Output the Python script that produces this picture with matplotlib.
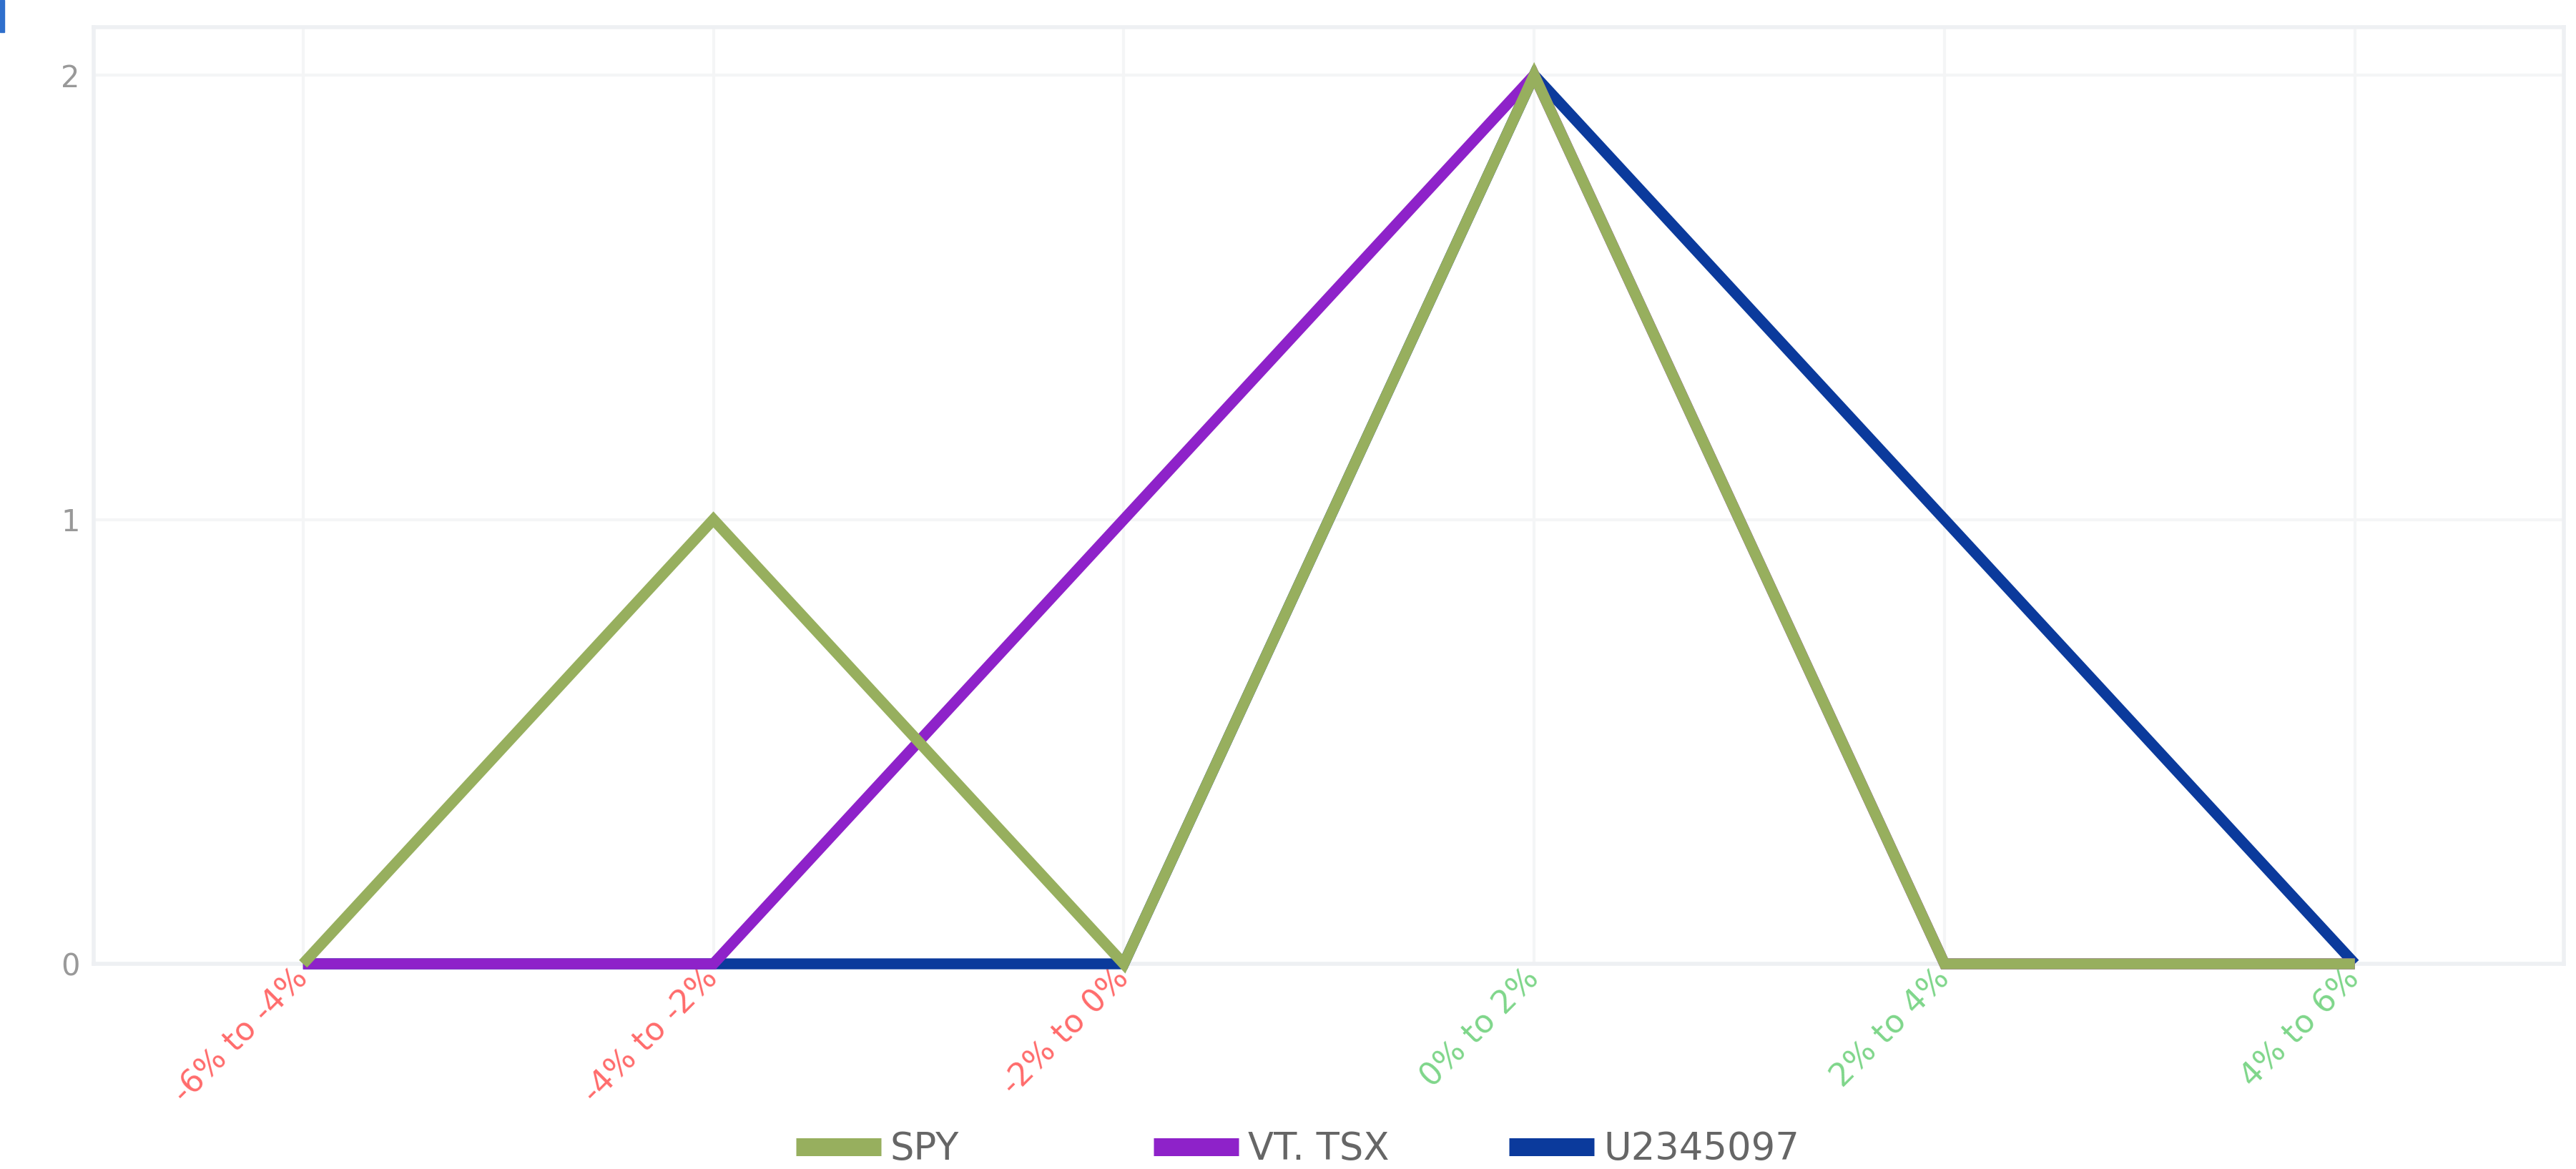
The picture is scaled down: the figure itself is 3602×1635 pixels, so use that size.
import numpy as np
import matplotlib
matplotlib.use("Agg")
from matplotlib import pyplot as plt
from matplotlib.lines import Line2D
from matplotlib.patches import Rectangle

# --- Data ---
categories = ["-6% to -4%", "-4% to -2%", "-2% to 0%", "0% to 2%", "2% to 4%", "4% to 6%"]
spy = [0, 1, 0, 2, 0, 0]
vt_tsx = [0, 0, 1, 2, 0, 0]
u2345097 = [0, 0, 0, 2, 1, 0]
series_names = ["SPY", "VT. TSX", "U2345097"]
series_colors = ["#97af5e", "#8e22c9", "#0b3a9c"]
label_colors = ["#ff6b6b", "#ff6b6b", "#ff6b6b", "#7ed68a", "#7ed68a", "#7ed68a"]

# --- Figure ---
fig = plt.figure(figsize=(36.02, 16.35), dpi=100)
ax = fig.add_axes([0.0364, 0.1755, 0.959, 0.8013])

x = np.arange(len(categories))
# blue at the back, green on top (first dataset drawn last)
ax.plot(x, u2345097, color=series_colors[2], lw=11, zorder=3, clip_on=False,
        solid_joinstyle="miter", solid_capstyle="butt")
ax.plot(x, vt_tsx, color=series_colors[1], lw=11, zorder=4, clip_on=False,
        solid_joinstyle="miter", solid_capstyle="butt")
ax.plot(x, spy, color=series_colors[0], lw=11, zorder=5, clip_on=False,
        solid_joinstyle="miter", solid_capstyle="butt")

ax.set_xlim(-0.51, 5.51)
ax.set_ylim(0, 2.108)
ax.set_yticks([0, 1, 2])
ax.set_yticklabels(["0", "1", "2"])
ax.set_xticks(x)
ax.set_xticklabels(categories, rotation=45, ha="right", va="center",
                   rotation_mode="anchor")
for lbl, c in zip(ax.get_xticklabels(), label_colors):
    lbl.set_color(c)

ax.tick_params(axis="both", length=0)
ax.tick_params(axis="y", colors="#999999", pad=14, labelsize=30)
ax.tick_params(axis="x", pad=10, labelsize=32)

# light grid and frame
ax.grid(True, color="#f4f5f6", lw=3, zorder=0)
for s in ax.spines.values():
    s.set_color("#eef0f3")
    s.set_linewidth(4)

# --- Legend (one entry each, placed at the swatch positions) ---
legend_x = [1113 / 3602, 1613 / 3602, 2110 / 3602]
for name, c, lx in zip(series_names, series_colors, legend_x):
    h = Line2D([0], [0], color=c, lw=18, solid_capstyle="butt")
    fig.legend([h], [name], loc="center left", bbox_to_anchor=(lx, 0.017),
               frameon=False, fontsize=38, labelcolor="#666666",
               handlelength=2.25, handletextpad=0.25, borderpad=0, borderaxespad=0)

# small blue tab in the top-left corner
fig.patches.append(Rectangle((0, 1 - 45 / 1635), 6 / 3602, 45 / 1635,
                             transform=fig.transFigure, color="#2f6fcc", zorder=10))

fig.savefig("out.png", dpi=100)
